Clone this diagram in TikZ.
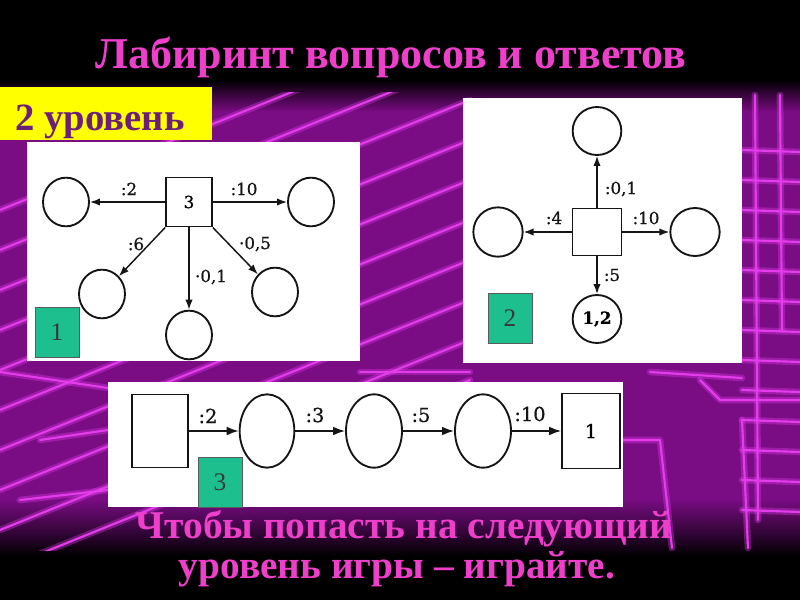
\documentclass[tikz,border=0pt]{standalone}
\usepackage{fontspec}
\setmainfont{Liberation Serif}
\newfontfamily\labelfont[FakeBold=0.7]{DejaVu Serif}
\usetikzlibrary{arrows.meta,positioning,calc,shapes.geometric}
\definecolor{bgpurple}{HTML}{7A0C84}
\definecolor{glow}{HTML}{E23CEB}
\definecolor{headline}{HTML}{EE3FCB}
\definecolor{badge}{HTML}{FFFF00}
\definecolor{badgetext}{HTML}{6C1E78}
\definecolor{tag}{HTML}{1DBF8E}
\definecolor{ink}{HTML}{151515}
\tikzset{
  panel/.style={fill=white},
  room/.style={ellipse, draw=ink, line width=1.4pt, fill=white,
               minimum width=34.5pt, minimum height=36.5pt, inner sep=0pt},
  door/.style={rectangle, draw=ink, line width=1.2pt, fill=white,
               minimum width=34.5pt, minimum height=37pt, inner sep=0pt},
  move/.style={-{Latex[length=7.5pt,width=5.5pt]}, line width=1.1pt, draw=ink},
  cost/.style={font=\labelfont\fontsize{12.5}{14}\selectfont, text=ink, inner sep=0pt},
  tagbox/.style={draw=ink!70, line width=0.4pt, fill=tag, minimum width=33pt,
                 minimum height=37.5pt, inner sep=0pt, font=\fontsize{19}{20}\selectfont,
                 text=ink!85},
  bigtext/.style={font=\bfseries\fontsize{29.5}{32}\selectfont, text=headline, inner sep=0pt},
  maze/.style={draw=glow, line width=1.6pt, line cap=round, line join=round},
  mazeglow/.style={draw=glow, line width=5pt, opacity=0.35, line cap=round, line join=round}
}

\begin{document}
\begin{tikzpicture}[x=0.75pt,y=-0.75pt]
  \useasboundingbox (0,0) rectangle (800,600);
  % background
  \fill[black] (0,0) rectangle (800,600);
  \shade[top color=black, bottom color=bgpurple] (0,80) rectangle (800,112);
  \fill[bgpurple] (0,111) rectangle (800,500);
  \shade[top color=bgpurple, bottom color=black] (0,499) rectangle (800,556);
  \begin{scope}
    \clip (0,92) rectangle (800,550);
    \foreach \y in {210,250,...,570} {
      \draw[mazeglow] (0,\y) -- (470,\y-190);
      \draw[maze] (0,\y) -- (470,\y-190);
    }
    \foreach \y in {150,180,...,510} {
      \draw[mazeglow] (742,\y) -- (800,\y+2);
      \draw[maze] (742,\y) -- (800,\y+2);
    }
    \foreach \p in {{(755,95) -- (758,520)}, {(780,95) -- (782,330)},
                    {(623,440) -- (660,440) -- (672,548)}, {(700,380) -- (720,400) -- (800,400)},
                    {(742,420) -- (748,548)}, {(360,372) -- (470,372)}, {(0,372) -- (108,388)},
                    {(650,372) -- (742,378)}, {(40,440) -- (108,430)}, {(20,500) -- (108,490)}} {
      \draw[mazeglow] \p;
      \draw[maze] \p;
    }
  \end{scope}

  % headings
  \node[bigtext, font=\bfseries\fontsize{33}{36}\selectfont, anchor=base] (title) at (391,68)
    {Лабиринт вопросов и ответов};
  \fill[badge] (0,87) rectangle (212,140);
  \node[font=\bfseries\fontsize{29}{32}\selectfont, text=badgetext, anchor=base, inner sep=0pt]
    (level) at (100,130) {2 уровень};

  % panel 1
  \fill[panel] (27,142) rectangle (360,361);
  \node[door] (hub) at (189,202) {\labelfont\fontsize{12.5}{14}\selectfont 3};
  \node[room] (a1) at (66,202) {};
  \node[room] (a2) at (311,202) {};
  \node[room] (a3) at (102,294) {};
  \node[room] (a4) at (189,335) {};
  \node[room] (a5) at (275,292) {};
  \draw[move] (hub.west) -- (a1.east);
  \draw[move] (hub.east) -- (a2.west);
  \draw[move] (hub.south west) -- (a3);
  \draw[move] (hub.south) -- (a4.north);
  \draw[move] (hub.south east) -- (a5);
  \node[cost] (c12) at (129,189) {:2};
  \node[cost] (c110) at (244,189) {:10};
  \node[cost] (c16) at (136,244) {:6};
  \node[cost] (c101) at (211,277) {·0,1};
  \node[cost] (c105) at (255,244) {·0,5};
  \node[tagbox] (t1) at (57,332) {1};

  % panel 2
  \fill[panel] (463,98) rectangle (742,363);
  \node[door, minimum width=37pt, minimum height=35.5pt] (mid) at (597,232) {};
  \node[room, minimum width=36.5pt, minimum height=36pt] (b1) at (597,131) {};
  \node[room, minimum width=37pt, minimum height=37pt] (b2) at (498,232) {};
  \node[room, minimum width=37pt, minimum height=36pt] (b3) at (695,232) {};
  \node[room, minimum width=36.5pt, minimum height=36pt,
        font=\labelfont\bfseries\fontsize{12.5}{14}\selectfont] (b4) at (597,319) {1,2};
  \draw[move] (mid.north) -- (b1.south);
  \draw[move] (mid.west) -- (b2.east);
  \draw[move] (mid.east) -- (b3.west);
  \draw[move] (mid.south) -- (b4.north);
  \node[cost] (c201) at (621,189) {:0,1};
  \node[cost] (c24) at (554,218) {:4};
  \node[cost] (c210) at (646,218) {:10};
  \node[cost] (c25) at (612,275) {:5};
  \node[tagbox] (t2) at (510,318) {2};

  % panel 3
  \fill[panel] (108,382) rectangle (623,507);
  \node[door, minimum width=42pt, minimum height=55pt] (start) at (160,431) {};
  \node[room, minimum width=41pt, minimum height=55pt] (e1) at (267,431) {};
  \node[room, minimum width=42pt, minimum height=55pt] (e2) at (374,431) {};
  \node[room, minimum width=42pt, minimum height=55pt] (e3) at (483,431) {};
  \node[door, minimum width=43.5pt, minimum height=56pt,
        font=\labelfont\fontsize{14.5}{16}\selectfont] (goal) at (591,431) {1};
  \tikzset{move/.append style={-{Latex[length=9pt,width=6.5pt]}, line width=1.2pt}}
  \draw[move] (start.east) -- (e1.west);
  \draw[move] (e1.east) -- (e2.west);
  \draw[move] (e2.east) -- (e3.west);
  \draw[move] (e3.east) -- (goal.west);
  \tikzset{cost/.append style={font=\labelfont\fontsize{14.5}{16}\selectfont}}
  \node[cost] (c32) at (208,416) {:2};
  \node[cost] (c33) at (315,415) {:3};
  \node[cost] (c35) at (421,415) {:5};
  \node[cost] (c310) at (530,414) {:10};
  \node[tagbox] (t3) at (220,482) {3};

  % closing line
  \node[bigtext, anchor=base] (hint1) at (404,538) {Чтобы попасть на следующий};
  \node[bigtext, anchor=base] (hint2) at (397,578) {уровень игры – играйте.};
\end{tikzpicture}
\end{document}
